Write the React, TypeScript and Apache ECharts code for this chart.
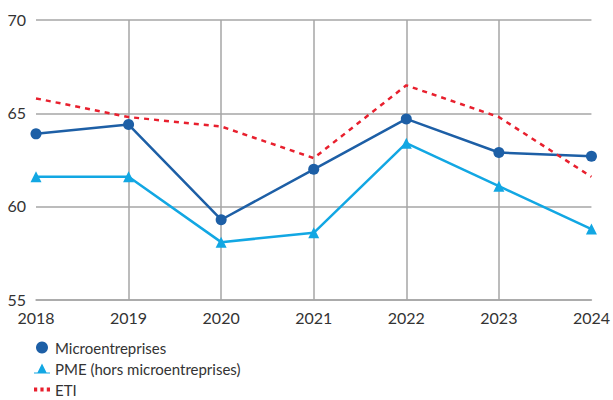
import React, { useEffect, useRef } from "react";
import * as echarts from "echarts";

const years = ["2018", "2019", "2020", "2021", "2022", "2023", "2024"];
const micro = [63.9, 64.4, 59.3, 62.0, 64.7, 62.9, 62.7];
const pme = [61.6, 61.6, 58.1, 58.6, 63.4, 61.1, 58.8];
const eti = [65.8, 64.8, 64.3, 62.6, 66.5, 64.8, 61.6];
const seriesNames = ["Microentreprises", "PME (hors microentreprises)", "ETI"];

const FONT = "Lato";

export default function App() {
  const ref = useRef<HTMLDivElement>(null);
  useEffect(() => {
    if (!ref.current) return;
    const chart = echarts.init(ref.current, null, { renderer: "svg" });
    chart.setOption({
      animation: false,
      backgroundColor: "#ffffff",
      grid: { left: 36, right: 16, top: 20, bottom: 100, containLabel: false },
      xAxis: {
        type: "category",
        data: years,
        boundaryGap: false,
        axisLine: { show: true, lineStyle: { color: "#a6a6a6", width: 1.5 } },
        axisTick: { show: false },
        axisLabel: { color: "#333", fontFamily: FONT, fontSize: 16, margin: 9 },
        splitLine: { show: true, interval: (i: number) => i > 0 && i < years.length - 1, lineStyle: { color: "#a6a6a6", width: 1.5 } },
      },
      yAxis: {
        type: "value",
        min: 55,
        max: 70,
        interval: 5,
        axisLine: { show: false },
        axisTick: { show: false },
        axisLabel: { color: "#333", fontFamily: FONT, fontSize: 16, margin: 10, verticalAlign: "bottom", lineHeight: 16, padding: [0, 0, -7, 0] },
        splitLine: { show: true, lineStyle: { color: "#a6a6a6", width: 1.5 } },
      },
      legend: {
        orient: "vertical",
        left: 34,
        top: 340,
        height: 80,
        padding: 0,
        itemGap: 6,
        itemWidth: 16,
        itemHeight: 12,
        textStyle: { color: "#333", fontFamily: FONT, fontSize: 15 },
        data: [
          { name: seriesNames[0], icon: "circle" },
          { name: seriesNames[1], icon: "path://M0,10 L5,0 L10,10 Z M-3,9 h16 v1.2 h-16 Z" },
          { name: seriesNames[2], icon: "path://M0,0 h2.5 v3 h-2.5 Z M5,0 h2.5 v3 h-2.5 Z M10,0 h2.5 v3 h-2.5 Z" },
        ],
      },
      series: [
        {
          name: seriesNames[0],
          type: "line",
          data: micro,
          symbol: "circle",
          symbolSize: 11,
          lineStyle: { color: "#1d5fa6", width: 2.5 },
          itemStyle: { color: "#1d5fa6" },
          z: 3,
        },
        {
          name: seriesNames[1],
          type: "line",
          data: pme,
          symbol: "triangle",
          symbolSize: 11,
          lineStyle: { color: "#12a7e3", width: 2.5 },
          itemStyle: { color: "#12a7e3" },
          z: 2,
        },
        {
          name: seriesNames[2],
          type: "line",
          data: eti,
          symbol: "none",
          lineStyle: { color: "#e8202e", width: 2.5, type: [5, 5] },
          itemStyle: { color: "#e8202e" },
          z: 4,
        },
      ],
    });
    return () => chart.dispose();
  }, []);
  return <div ref={ref} style={{ width: 613, height: 400, position: "absolute", left: 0, top: 0 }} />;
}
